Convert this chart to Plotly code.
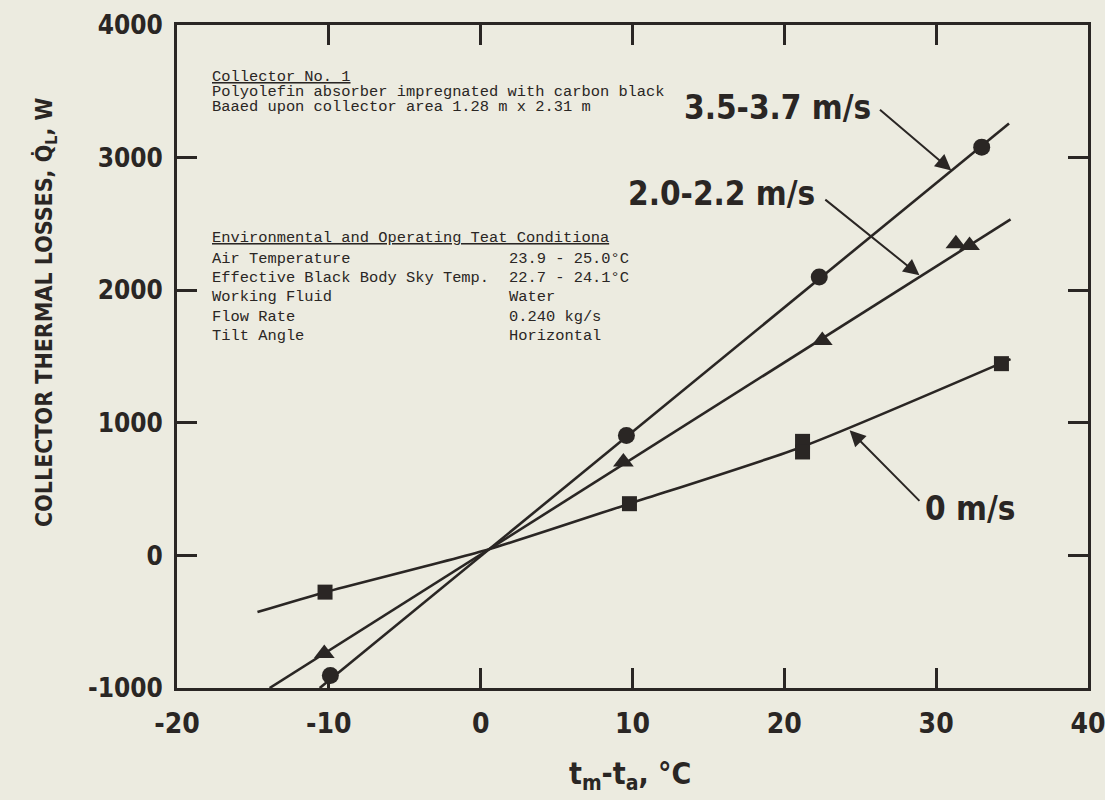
import plotly.graph_objects as go

# ---------------- data ----------------
# 3.5-3.7 m/s wind (circles)
x_wind35 = [-9.9, 9.6, 22.3, 33.0]
y_wind35 = [-905, 905, 2099, 3079]
fit35_x = [-10.6, 34.8]
fit35_y = [-1000, 3258]

# 2.0-2.2 m/s wind (triangles)
x_wind20 = [-10.3, 9.4, 22.5, 31.3, 32.2]
y_wind20 = [-740, 704, 1621, 2351, 2338]
fit20_x = [-13.9, 34.9]
fit20_y = [-1000, 2534]

# 0 m/s wind (squares)
x_wind0 = [-10.25, 9.8, 21.2, 21.2, 34.3]
y_wind0 = [-277, 390, 860, 780, 1446]
fit0_x = [-14.7, -10.25, 0.5, 9.8, 21.2, 34.9]
fit0_y = [-427, -277, 45, 390, 820, 1480]

x_ticks = [-20, -10, 0, 10, 20, 30, 40]
y_ticks = [-1000, 0, 1000, 2000, 3000, 4000]

series_labels = ["3.5-3.7 m/s", "2.0-2.2 m/s", "0 m/s"]
# arrow tips (on the lines) and tails (next to the labels), data units
arrow_tip_x = [31.0, 28.9, 24.3]
arrow_tip_y = [2903, 2112, 943]
arrow_tail_x = [26.2, 22.6, 29.0]
arrow_tail_y = [3371, 2692, 400]

block1_lines = ["<u>Collector No. 1</u>",
                "Polyolefin absorber impregnated with carbon black",
                "Baaed upon collector area 1.28 m x 2.31 m"]
block2_head = "<u>Environmental and Operating Teat Conditiona</u>"
block2_left = ["Air Temperature", "Effective Black Body Sky Temp.",
               "Working Fluid", "Flow Rate", "Tilt Angle"]
block2_right = ["23.9 - 25.0°C", "22.7 - 24.1°C", "Water",
                "0.240 kg/s", "Horizontal"]

# ---------------- styling ----------------
BG = "#ecebe0"
INK = "#2a2624"
COND = "Liberation Sans Narrow, DejaVu Sans Condensed, Arial Narrow, sans-serif"
MONO = "Liberation Mono, DejaVu Sans Mono, Courier New, monospace"

W, H = 1105, 800
L, R, T, B = 177, 17, 25, 112
PW, PH = W - L - R, H - T - B


def px(xp):
    return (xp - L) / PW


def py(yp):
    return (H - B - yp) / PH


def cfont(size):
    return dict(family=COND, size=size, color=INK, weight="bold")


fig = go.Figure()

for fx, fy in [(fit35_x, fit35_y), (fit20_x, fit20_y)]:
    fig.add_trace(go.Scatter(x=fx, y=fy, mode="lines",
                             line=dict(color=INK, width=2.6), hoverinfo="skip"))
fig.add_trace(go.Scatter(x=fit0_x, y=fit0_y, mode="lines",
                         line=dict(color=INK, width=2.6, shape="spline", smoothing=0.6),
                         hoverinfo="skip"))

fig.add_trace(go.Scatter(x=x_wind35, y=y_wind35, mode="markers",
                         marker=dict(symbol="circle", size=17, color=INK)))
fig.add_trace(go.Scatter(x=x_wind20, y=y_wind20, mode="markers",
                         marker=dict(symbol="triangle-up", size=18, color=INK)))
fig.add_trace(go.Scatter(x=x_wind0, y=y_wind0, mode="markers",
                         marker=dict(symbol="square", size=15, color=INK)))

# arrows
for i in range(3):
    fig.add_annotation(x=arrow_tip_x[i], y=arrow_tip_y[i], xref="x", yref="y",
                       ax=arrow_tail_x[i], ay=arrow_tail_y[i], axref="x", ayref="y",
                       text="", showarrow=True, arrowhead=2, arrowsize=1.6,
                       arrowwidth=2, arrowcolor=INK)

# series labels
label_pos = [(873, 107, "right"), (817, 193, "right"), (923, 508, "left")]
for lab, (xp, yp, anc) in zip(series_labels, label_pos):
    fig.add_annotation(x=px(xp), y=py(yp), xref="paper", yref="paper",
                       text=lab, showarrow=False, xanchor=anc, yanchor="middle",
                       font=cfont(33))

# typewriter text blocks
for i, t in enumerate(block1_lines):
    fig.add_annotation(x=px(210), y=py(77 + 15 * i), xref="paper", yref="paper",
                       text=t, showarrow=False, xanchor="left", yanchor="middle",
                       font=dict(family=MONO, size=15.4, color=INK))
fig.add_annotation(x=px(210), y=py(238), xref="paper", yref="paper",
                   text=block2_head, showarrow=False, xanchor="left", yanchor="middle",
                   font=dict(family=MONO, size=15.4, color=INK))
for i, (a, b) in enumerate(zip(block2_left, block2_right)):
    yy = 259 + 19.2 * i
    fig.add_annotation(x=px(210), y=py(yy), xref="paper", yref="paper",
                       text=a, showarrow=False, xanchor="left", yanchor="middle",
                       font=dict(family=MONO, size=15.4, color=INK))
    fig.add_annotation(x=px(507), y=py(yy), xref="paper", yref="paper",
                       text=b, showarrow=False, xanchor="left", yanchor="middle",
                       font=dict(family=MONO, size=15.4, color=INK))

# axis titles
fig.add_annotation(x=px(46), y=py(312), xref="paper", yref="paper",
                   text="COLLECTOR THERMAL LOSSES, Q\u0307<sub>L</sub>, W",
                   textangle=-90, showarrow=False, xanchor="center", yanchor="middle",
                   font=cfont(23))
fig.add_annotation(x=px(630), y=py(775), xref="paper", yref="paper",
                   text="t<sub>m</sub>-t<sub>a</sub>, °C",
                   showarrow=False, xanchor="center", yanchor="middle",
                   font=cfont(30))

axis_common = dict(showline=True, linecolor=INK, linewidth=3, mirror="ticks",
                   ticks="inside", ticklen=20, tickwidth=2.5, tickcolor=INK,
                   showgrid=False, zeroline=False, ticklabeloverflow="allow",
                   automargin=False)

fig.update_xaxes(range=[-20, 40.001], tickvals=x_ticks,
                 ticktext=[str(v) for v in x_ticks], ticklabelstandoff=8,
                 tickfont=cfont(28), **axis_common)
fig.update_yaxes(range=[-1000, 4000.01], tickvals=y_ticks,
                 ticktext=[str(v) for v in y_ticks], ticklabelstandoff=6,
                 tickfont=cfont(26), **axis_common)

fig.update_layout(width=W, height=H, showlegend=False,
                  paper_bgcolor=BG, plot_bgcolor=BG,
                  margin=dict(l=L, r=R, t=T, b=B, pad=0, autoexpand=False))

fig.write_html("out.html")
